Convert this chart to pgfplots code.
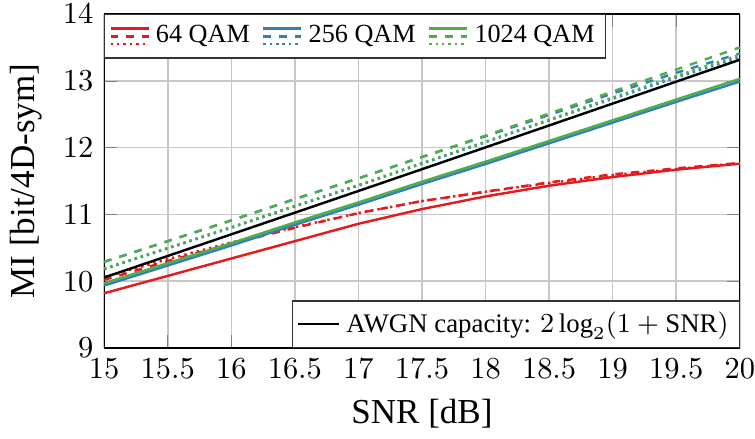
\documentclass[border=0pt]{standalone}
\usepackage{fontspec}
\setmainfont{Liberation Serif}
\usepackage{pgfplots}
\usepackage{pgfplotstable}
\pgfplotsset{compat=1.18}
\definecolor{cred}{RGB}{228,26,28}
\definecolor{cblue}{RGB}{55,126,184}
\definecolor{cgreen}{RGB}{77,175,74}

\pgfplotstableread{
snr awgn r64s r64d r64o b256s b256d b256o g1024s g1024d g1024o
15 10.056 9.82 10.02 10.06 9.935 10.29 10.18 9.97 10.29 10.19
15.5 10.378 10.08 10.30 10.33 10.235 10.60 10.49 10.27 10.60 10.50
16 10.702 10.34 10.56 10.58 10.535 10.91 10.80 10.57 10.91 10.81
16.5 11.026 10.60 10.80 10.81 10.845 11.23 11.12 10.88 11.23 11.13
17 11.351 10.86 11.02 11.02 11.145 11.54 11.43 11.18 11.54 11.44
17.5 11.677 11.08 11.20 11.20 11.455 11.86 11.76 11.49 11.86 11.77
18 12.004 11.27 11.34 11.34 11.755 12.17 12.08 11.79 12.18 12.09
18.5 12.332 11.43 11.48 11.47 12.065 12.49 12.41 12.10 12.51 12.42
19 12.660 11.56 11.60 11.59 12.375 12.81 12.73 12.41 12.84 12.75
19.5 12.988 11.67 11.69 11.68 12.685 13.12 13.05 12.72 13.17 13.07
20 13.316 11.76 11.77 11.77 12.99 13.41 13.35 13.03 13.50 13.39
}\data

\tikzset{
  mydash/.style={dash pattern=on 2.5pt off 2.7pt},
  mydot/.style={dash pattern=on 0.8pt off 1.3pt},
}

\begin{document}
\begin{tikzpicture}
\begin{axis}[
  scale only axis, width=208.6pt, height=109.6pt,
  xmin=15, xmax=20, ymin=9, ymax=14,
  xtick={15,15.5,...,20}, ytick={9,10,...,14},
  grid=major, grid style={black!22, line width=0.5pt},
  xlabel={SNR [dB]}, ylabel={MI [bit/4D-sym]},
  label style={font=\fontsize{11.5}{13}\selectfont},
  tick label style={font=\fontsize{10}{12}\selectfont},
  xticklabel style={inner xsep=0pt},
  yticklabel style={inner ysep=1.4pt},
  legend columns=-1,
  legend style={at={(0,1)}, anchor=north west, font=\fontsize{8.6}{10}\selectfont,
    draw=black!80, inner sep=1.5pt,
    /tikz/every even column/.append style={column sep=2pt}},
]
\addlegendimage{legend image code/.code={
  \draw[cred,thick] (0pt,2.6pt) -- (12.5pt,2.6pt);
  \draw[cred,thick,mydash] (0pt,0pt) -- (12.5pt,0pt);
  \draw[cred,thick,mydot] (0pt,-2.6pt) -- (12.5pt,-2.6pt);}}
\addlegendentry{64 QAM}
\addlegendimage{legend image code/.code={
  \draw[cblue,thick] (0pt,2.6pt) -- (12.5pt,2.6pt);
  \draw[cblue,thick,mydash] (0pt,0pt) -- (12.5pt,0pt);
  \draw[cblue,thick,mydot] (0pt,-2.6pt) -- (12.5pt,-2.6pt);}}
\addlegendentry{256 QAM}
\addlegendimage{legend image code/.code={
  \draw[cgreen,thick] (0pt,2.6pt) -- (12.5pt,2.6pt);
  \draw[cgreen,thick,mydash] (0pt,0pt) -- (12.5pt,0pt);
  \draw[cgreen,thick,mydot] (0pt,-2.6pt) -- (12.5pt,-2.6pt);}}
\addlegendentry{1024 QAM}

\addplot[cred, thick, forget plot] table[x=snr, y=r64s]{\data};
\addplot[cred, thick, mydash, forget plot] table[x=snr, y=r64d]{\data};
\addplot[cred, thick, mydot, forget plot] table[x=snr, y=r64o]{\data};
\addplot[cblue, thick, forget plot] table[x=snr, y=b256s]{\data};
\addplot[cblue, thick, mydash, forget plot] table[x=snr, y=b256d]{\data};
\addplot[cblue, thick, mydot, forget plot] table[x=snr, y=b256o]{\data};
\addplot[cgreen, thick, forget plot] table[x=snr, y=g1024s]{\data};
\addplot[cgreen, thick, mydash, forget plot] table[x=snr, y=g1024d]{\data};
\addplot[cgreen, thick, mydot, forget plot] table[x=snr, y=g1024o]{\data};
\end{axis}

\begin{scope}[overlay]
\begin{axis}[
  scale only axis, width=208.6pt, height=109.6pt,
  xmin=15, xmax=20, ymin=9, ymax=14,
  hide axis,
  legend style={at={(1,0)}, anchor=south east, font=\fontsize{8.8}{10}\selectfont,
    draw=black!80, inner sep=1.5pt},
  legend image code/.code={\draw[#1] (0pt,0pt) -- (13.5pt,0pt);},
]
\addplot[black, thick] table[x=snr, y=awgn]{\data};
\addlegendentry{AWGN capacity: $2\log_2(1+\mathrm{SNR})$}
\end{axis}
\end{scope}
\end{tikzpicture}
\end{document}
